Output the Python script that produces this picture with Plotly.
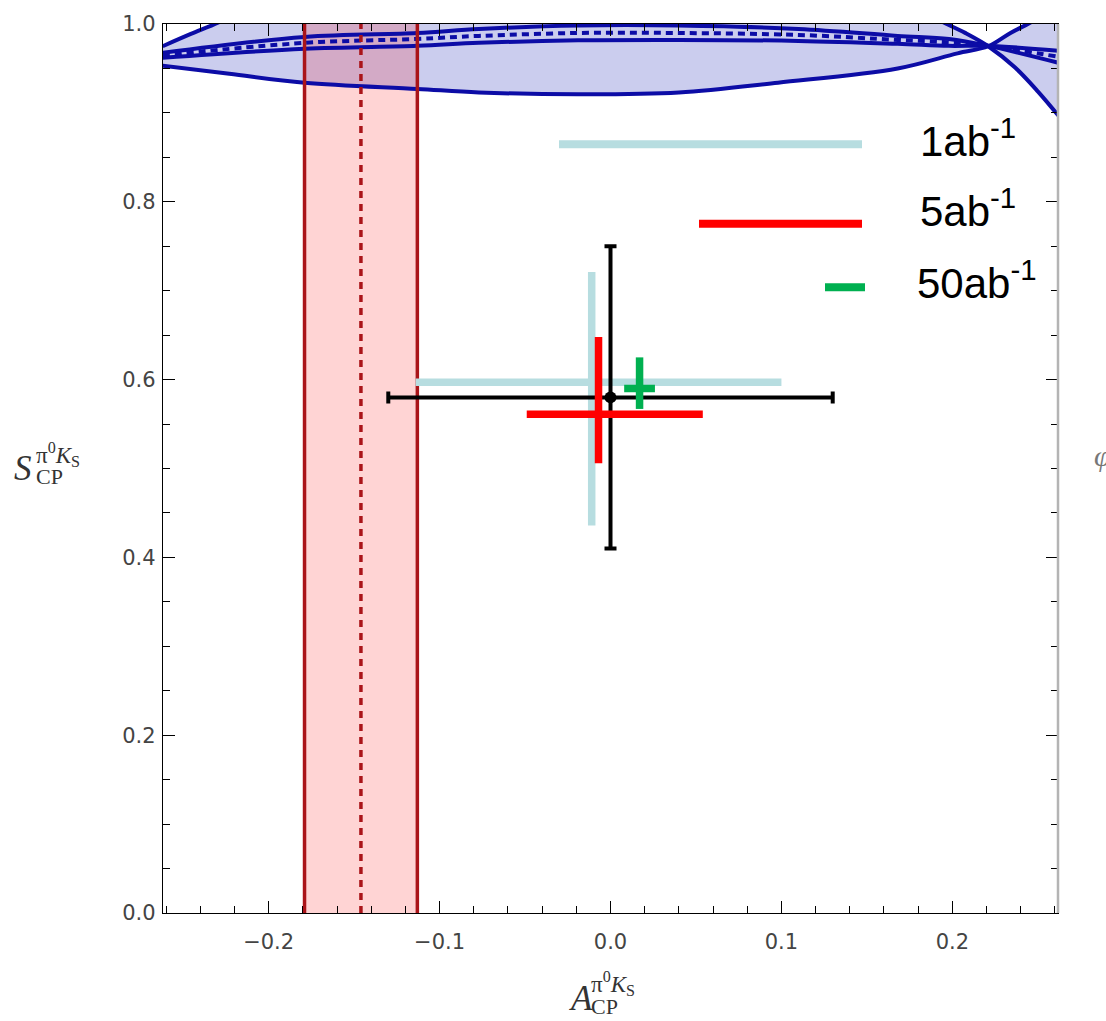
import plotly.graph_objects as go

# ---- axis ranges -------------------------------------------------------
X_RANGE = [-0.2618, 0.2618]
Y_RANGE = [0.0, 1.0]

# ---- allowed region (blue): lower and upper boundary curves -----------
bound_lo_x = [-0.262, -0.223, -0.179, -0.113, -0.077, -0.019, 0.040, 0.098,
              0.168, 0.203, 0.221, 0.234, 0.246, 0.262]
bound_lo_y = [0.953, 0.944, 0.934, 0.927, 0.923, 0.921, 0.923, 0.934,
              0.950, 0.967, 0.975, 0.990, 1.002, 1.022]

bound_hi_x = [-0.262, -0.2455, -0.229, -0.20, -0.10, 0.0, 0.10, 0.17,
              0.1946, 0.2075, 0.221, 0.2367, 0.2501, 0.262]
bound_hi_y = [0.975, 0.9888, 1.002, 1.03, 1.07, 1.08, 1.065, 1.025,
              1.002, 0.990, 0.975, 0.951, 0.924, 0.897]

# ---- phase band: central curve and its two edges ----------------------
band_x = [-0.262, -0.179, -0.113, -0.077, -0.019, 0.040, 0.110, 0.168,
          0.198, 0.221, 0.262]
band_up_y = [0.9676, 0.9855, 0.9899, 0.9944, 0.9983, 0.9983, 0.9944, 0.9866,
             0.9832, 0.9754, 0.9564]
band_dn_y = [0.9620, 0.9721, 0.9754, 0.9788, 0.9816, 0.9821, 0.9810, 0.9777,
             0.9754, 0.9754, 0.9698]
band_mid_y = [0.9648, 0.9788, 0.9832, 0.9866, 0.9899, 0.9899, 0.9877, 0.9821,
              0.9793, 0.9754, 0.9631]

# ---- direct CP asymmetry constraint (red band) ------------------------
acp_center = -0.146
acp_err = 0.033

# ---- current measurement (black) --------------------------------------
meas_A, meas_A_err = 0.0, 0.13
meas_S, meas_S_err = 0.58, 0.17

# ---- projected precision for each luminosity --------------------------
lumi_labels = ["1ab<sup>-1</sup>", "5ab<sup>-1</sup>", "50ab<sup>-1</sup>"]
lumi_colors = ["#B7DDE0", "#FF0000", "#00B050"]
h_bar_y = [0.597, 0.561, 0.590]
h_bar_xlo = [-0.114, -0.049, 0.008]
h_bar_xhi = [0.100, 0.054, 0.026]
v_bar_x = [-0.011, -0.007, 0.017]
v_bar_ylo = [0.436, 0.506, 0.567]
v_bar_yhi = [0.721, 0.648, 0.625]

BLUE = "#0C0CA6"
BLUE_FILL = "#CBCDEE"
DARK_RED = "#AA1419"
RED_FILL = "rgba(255,0,0,0.17)"
SERIF = "Liberation Serif"
SANS = "Liberation Sans"

fig = go.Figure()

# filled region between the two boundary curves
fig.add_trace(go.Scatter(x=bound_lo_x, y=bound_lo_y, mode="lines",
                         line=dict(width=0, shape="spline"),
                         hoverinfo="skip", showlegend=False))
fig.add_trace(go.Scatter(x=bound_hi_x, y=bound_hi_y, mode="lines",
                         line=dict(width=0, shape="spline"),
                         fill="tonexty", fillcolor=BLUE_FILL,
                         hoverinfo="skip", showlegend=False))

# red band fill
fig.add_trace(go.Scatter(x=[acp_center - acp_err, acp_center + acp_err],
                         y=[Y_RANGE[1], Y_RANGE[1]], mode="lines",
                         line=dict(width=0), fill="tozeroy", fillcolor=RED_FILL,
                         hoverinfo="skip", showlegend=False))

# blue curves
for xs, ys, dash in [(bound_lo_x, bound_lo_y, "solid"),
                     (bound_hi_x, bound_hi_y, "solid"),
                     (band_x, band_up_y, "solid"),
                     (band_x, band_dn_y, "solid"),
                     (band_x, band_mid_y, "7px,5px")]:
    fig.add_trace(go.Scatter(x=xs, y=ys, mode="lines",
                             line=dict(color=BLUE, width=4, shape="spline", dash=dash),
                             hoverinfo="skip", showlegend=False))

# red band edges and centre
for xv, dash in [(acp_center - acp_err, "solid"), (acp_center + acp_err, "solid"),
                 (acp_center, "7px,6px")]:
    fig.add_trace(go.Scatter(x=[xv, xv], y=Y_RANGE, mode="lines",
                             line=dict(color=DARK_RED, width=3.5, dash=dash),
                             hoverinfo="skip", showlegend=False))


def add_cross(i):
    c = lumi_colors[i]
    fig.add_trace(go.Scatter(x=[h_bar_xlo[i], h_bar_xhi[i]], y=[h_bar_y[i], h_bar_y[i]],
                             mode="lines", line=dict(color=c, width=7.5),
                             hoverinfo="skip", showlegend=False))
    fig.add_trace(go.Scatter(x=[v_bar_x[i], v_bar_x[i]], y=[v_bar_ylo[i], v_bar_yhi[i]],
                             mode="lines", line=dict(color=c, width=7.5),
                             hoverinfo="skip", showlegend=False))


add_cross(0)

# measurement with error bars
fig.add_trace(go.Scatter(
    x=[meas_A], y=[meas_S], mode="markers",
    marker=dict(color="black", size=12),
    error_x=dict(type="constant", value=meas_A_err, color="black", thickness=4, width=6),
    error_y=dict(type="constant", value=meas_S_err, color="black", thickness=4, width=6),
    hoverinfo="skip", showlegend=False))

add_cross(1)
add_cross(2)

# ---- axes --------------------------------------------------------------
axis_common = dict(
    showgrid=False, zeroline=False, showline=True, linecolor="black", linewidth=1.3,
    mirror="ticks", ticks="inside", ticklen=12, tickwidth=1.3, tickcolor="black",
    tickfont=dict(family="DejaVu Sans", size=21, color="#444"),
    tickformat=".1f",
)
fig.update_xaxes(range=X_RANGE, tick0=0, dtick=0.1, ticklabelstandoff=10,
                 minor=dict(dtick=0.02, ticks="inside", ticklen=7, tickwidth=1.2, tickcolor="black"),
                 **axis_common)
fig.update_yaxes(range=Y_RANGE, tick0=0, dtick=0.2, ticklabelstandoff=2,
                 minor=dict(dtick=0.05, ticks="inside", ticklen=7, tickwidth=1.2, tickcolor="black"),
                 **axis_common)

# ---- layout ------------------------------------------------------------
W, H = 1106, 1021
ML, MR, MT, MB = 163, 48, 18, 108
PW, PH = W - ML - MR, H - MT - MB


def px_x(p):
    return (p - ML) / PW


def px_y(p):
    return (H - MB - p) / PH


shapes = [
    # lighter right-hand frame edge
    dict(type="line", xref="paper", yref="paper", x0=1, x1=1, y0=0, y1=1,
         line=dict(color="#B4B4B4", width=2.5), layer="above"),
]
# legend keys
legend_keys = [(559, 862, 139), (699, 862, 219), (825, 865, 283)]
for (x0, x1, yk), c in zip(legend_keys, lumi_colors):
    shapes.append(dict(type="line", xref="paper", yref="paper",
                       x0=px_x(x0), x1=px_x(x1), y0=px_y(yk), y1=px_y(yk),
                       line=dict(color=c, width=8), layer="above"))

annotations = []
legend_text_pos = [(918, 133), (918, 203), (915, 276)]
for (tx, ty), lab in zip(legend_text_pos, lumi_labels):
    annotations.append(dict(text=lab, xref="paper", yref="paper",
                            x=px_x(tx), y=px_y(ty), xanchor="left", yanchor="middle",
                            showarrow=False, font=dict(family=SANS, size=42, color="black")))

# y-axis title  S_CP^{pi0 K_S}
annotations += [
    dict(text="<i>S</i>", xref="paper", yref="paper", x=px_x(12), y=px_y(466),
         xanchor="left", yanchor="middle", showarrow=False,
         font=dict(family=SERIF, size=35, color="#333")),
    dict(text="CP", xref="paper", yref="paper", x=px_x(34), y=px_y(474),
         xanchor="left", yanchor="middle", showarrow=False,
         font=dict(family=SERIF, size=22, color="#333")),
    dict(text="π<sup>0</sup><i>K</i><sub>S</sub>", xref="paper", yref="paper",
         x=px_x(34), y=px_y(451), xanchor="left", yanchor="middle", showarrow=False,
         font=dict(family=SERIF, size=23, color="#333")),
]
# x-axis title  A_CP^{pi0 K_S}
annotations += [
    dict(text="<i>A</i>", xref="paper", yref="paper", x=px_x(567), y=px_y(999),
         xanchor="left", yanchor="middle", showarrow=False,
         font=dict(family=SERIF, size=35, color="#333")),
    dict(text="CP", xref="paper", yref="paper", x=px_x(589), y=px_y(1007),
         xanchor="left", yanchor="middle", showarrow=False,
         font=dict(family=SERIF, size=22, color="#333")),
    dict(text="π<sup>0</sup><i>K</i><sub>S</sub>", xref="paper", yref="paper",
         x=px_x(589), y=px_y(984), xanchor="left", yanchor="middle", showarrow=False,
         font=dict(family=SERIF, size=23, color="#333")),
]
# label of the neighbouring panel, cut by the page edge
annotations.append(dict(text="<i>φ</i>", xref="paper", yref="paper", x=px_x(1092), y=px_y(452),
                        xanchor="left", yanchor="middle", showarrow=False,
                        font=dict(family=SERIF, size=30, color="#777")))

fig.update_layout(
    width=W, height=H,
    margin=dict(l=ML, r=MR, t=MT, b=MB),
    paper_bgcolor="white", plot_bgcolor="white",
    showlegend=False,
    shapes=shapes, annotations=annotations,
)

fig.write_html("out.html")
